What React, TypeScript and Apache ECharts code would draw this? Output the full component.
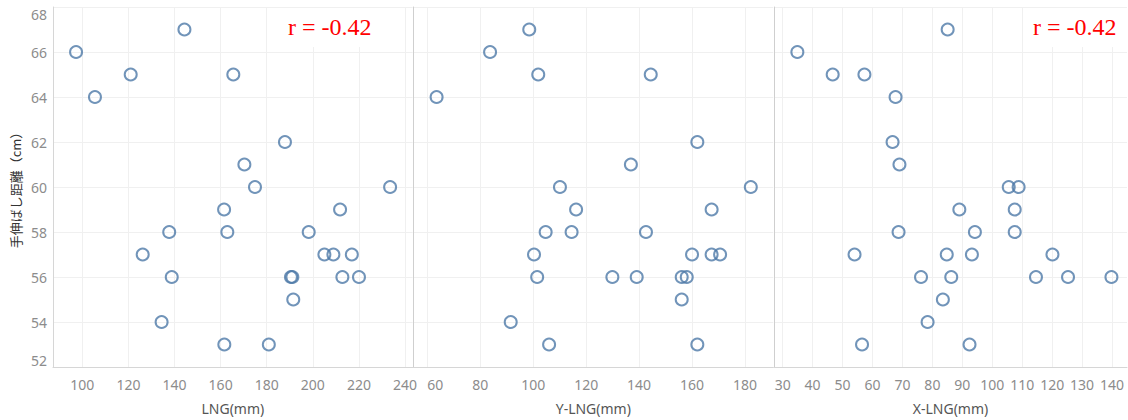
import React, { useEffect, useRef } from "react";
import * as echarts from "echarts";

const yTitle = "手伸ばし距離（cm）";
const panelTitles = ["LNG(mm)", "Y-LNG(mm)", "X-LNG(mm)"];
const rLabel = "r = -0.42";

const lngX = [97.3, 105.5, 121, 144.3, 165.5, 187.9, 170.3, 174.9, 233.5, 161.5, 211.8, 137.7, 162.9, 198.2, 126.2, 205, 208.9, 216.9, 138.8, 190.5, 191.1, 212.8, 220, 191.5, 134.4, 161.6, 180.9];
const lngY = [66, 64, 65, 67, 65, 62, 61, 60, 60, 59, 59, 58, 58, 58, 57, 57, 57, 57, 56, 56, 56, 56, 56, 55, 54, 53, 53];

const yLngX = [98.5, 83.7, 101.9, 144.4, 63.5, 162, 136.9, 110.1, 182.2, 116.2, 167.4, 104.7, 114.5, 142.6, 100.3, 160, 167.4, 170.6, 101.5, 129.9, 139.1, 156.1, 158, 156.1, 91.5, 106, 162];
const yLngY = [67, 66, 65, 65, 64, 62, 61, 60, 60, 59, 59, 58, 58, 58, 57, 57, 57, 57, 56, 56, 56, 56, 56, 55, 54, 53, 53];

const xLngX = [85.1, 34.9, 46.7, 57.3, 67.7, 66.7, 69, 105.5, 108.8, 89, 107.5, 68.7, 94.2, 107.5, 54, 84.8, 93.2, 120.1, 76.2, 86.3, 114.6, 125.3, 139.8, 83.5, 78.4, 56.5, 92.4];
const xLngY = [67, 66, 65, 65, 64, 62, 61, 60, 60, 59, 59, 58, 58, 58, 57, 57, 57, 57, 56, 56, 56, 56, 56, 55, 54, 53, 53];

const lngTicks = [100, 120, 140, 160, 180, 200, 220, 240];
const yLngTicks = [60, 80, 100, 120, 140, 160, 180];
const xLngTicks = [30, 40, 50, 60, 70, 80, 90, 100, 110, 120, 130, 140];

const xRanges = [
  [87.3, 243.3],
  [54.7, 190.7],
  [27.1, 145],
];

export default function App() {
  const ref = useRef<HTMLDivElement>(null);
  useEffect(() => {
    document.body.style.margin = "0";
    const chart = echarts.init(ref.current!, null, { renderer: "svg" });
    const font = "'Noto Sans', 'Open Sans', sans-serif";
    const rFont = "24px 'Liberation Serif', 'Times New Roman', serif";
    const grids = [
      { left: 53, top: 7, width: 359.7, bottom: 52 },
      { left: 413.3, top: 7, width: 360, bottom: 52 },
      { left: 774, top: 7, width: 353, bottom: 52 },
    ];
    const tickSets = [lngTicks, yLngTicks, xLngTicks];
    const xs = [lngX, yLngX, xLngX];
    const ys = [lngY, yLngY, xLngY];
    const option: any = {
      animation: false,
      backgroundColor: "#ffffff",
      grid: grids,
      xAxis: grids.map((g, i) => ({
        type: "value",
        gridIndex: i,
        min: xRanges[i][0],
        max: xRanges[i][1],
        name: panelTitles[i],
        nameLocation: "middle",
        nameGap: 34,
        nameTextStyle: { color: "#555", fontSize: 14, fontFamily: font },
        axisLine: { show: true, lineStyle: { color: "#d6d6d6", width: 1 } },
        axisTick: { show: false, customValues: tickSets[i] },
        axisLabel: {
          customValues: tickSets[i],
          color: "#8c8c8c",
          fontSize: 14,
          fontFamily: font,
          margin: 10,
          alignMinLabel: i === 1 ? "left" : "center",
        },
        splitLine: { show: true, lineStyle: { color: "#f0f0f0", width: 1 } },
      })),
      yAxis: grids.map((g, i) => ({
        type: "value",
        gridIndex: i,
        min: 52,
        max: 68,
        interval: 2,
        name: i === 0 ? yTitle : "",
        nameLocation: "middle",
        nameGap: 31,
        nameTextStyle: { color: "#333", fontSize: 13, fontFamily: "'Noto Sans CJK JP', sans-serif" },
        axisLine: { show: true, lineStyle: { color: i === 0 ? "#d6d6d6" : "#cfcfcf", width: 1 } },
        axisTick: { show: false },
        axisLabel: {
          show: i === 0,
          color: "#8c8c8c",
          fontSize: 14,
          fontFamily: font,
          margin: 6,
          verticalAlignMinLabel: "bottom",
          verticalAlignMaxLabel: "top",
        },
        splitLine: { show: true, lineStyle: { color: "#f0f0f0", width: 1 } },
      })),
      series: grids.map((g, i) => ({
        type: "scatter",
        xAxisIndex: i,
        yAxisIndex: i,
        symbol: "circle",
        symbolSize: 12,
        z: 3,
        itemStyle: { color: "rgba(0,0,0,0)", borderColor: "#4e79a7", borderWidth: 2 },
        data: xs[i].map((x, k) => [x, ys[i][k]]),
      })),
      graphic: [
        {
          type: "rect",
          z: 1,
          shape: { x: 278, y: 8, width: 104, height: 39 },
          style: { fill: "#ffffff" },
        },
        {
          type: "text",
          z: 2,
          left: 288,
          top: 15,
          style: { text: rLabel, fill: "#ff0000", font: rFont },
        },
        {
          type: "rect",
          z: 1,
          shape: { x: 1024, y: 8, width: 103, height: 39 },
          style: { fill: "#ffffff" },
        },
        {
          type: "text",
          z: 2,
          left: 1033,
          top: 15,
          style: { text: rLabel, fill: "#ff0000", font: rFont },
        },
      ],
    };
    chart.setOption(option);
    return () => chart.dispose();
  }, []);
  return <div ref={ref} style={{ width: 1128, height: 420 }} />;
}
